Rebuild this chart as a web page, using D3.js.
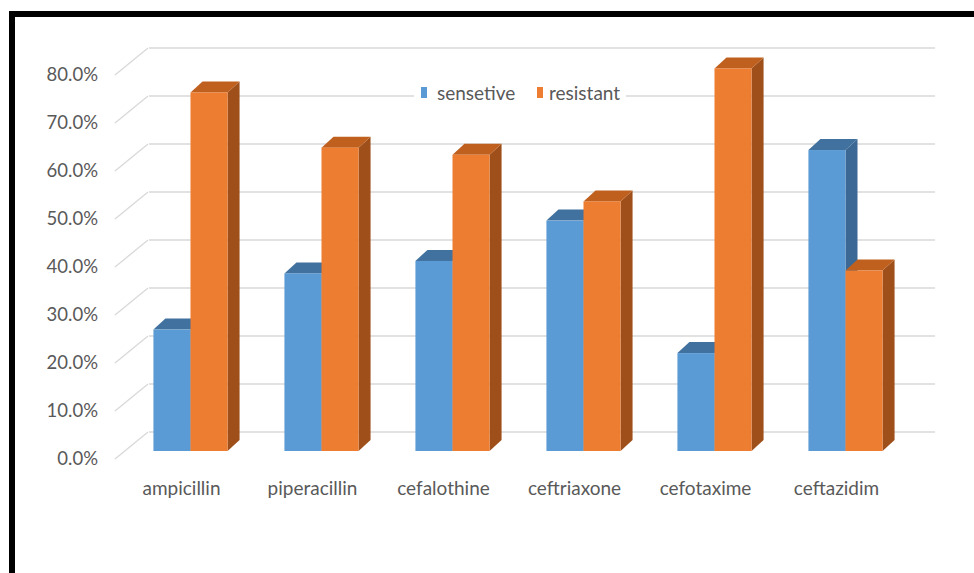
<!DOCTYPE html>
<html>
<head>
<meta charset="utf-8">
<script src="https://cdn.jsdelivr.net/npm/d3@7"></script>
<style>
  html, body { margin: 0; padding: 0; background: #fff; }
  svg { display: block; }
  text { font-family: Lato, "Noto Sans", sans-serif; fill: #595959; }
</style>
</head>
<body>
<svg id="chart" width="974" height="573"></svg>
<script>
// ---- data ----
const categories = ["ampicillin", "piperacillin", "cefalothine", "ceftriaxone", "cefotaxime", "ceftazidim"];
const seriesNames = ["sensetive", "resistant"];
const sensitive = [25.3, 37.0, 39.6, 48.0, 20.4, 62.7];
const resistant = [74.7, 63.2, 61.7, 52.0, 79.7, 37.6];
const yTicks = [0, 10, 20, 30, 40, 50, 60, 70, 80];

const seriesValues = [sensitive, resistant];
const frontColors = ["#5b9bd5", "#ed7d31"];
const topColors = ["#41719e", "#c0601f"];
const sideColors = ["#3b6894", "#9e4f1a"];

const svg = d3.select("#chart");

// frame (black border top & left)
svg.append("rect").attr("x", 9).attr("y", 11).attr("width", 965).attr("height", 6).attr("fill", "#000");
svg.append("rect").attr("x", 9).attr("y", 11).attr("width", 6).attr("height", 562).attr("fill", "#000");

// ---- geometry of the oblique 3D projection ----
const wallOff = { x: 33, y: -27 };   // floor front edge -> back wall
const barFrontOff = { x: 9, y: -8 }; // floor front edge -> bar front face
const barDepth = { x: 12, y: -11 };  // bar front face -> bar back face

// value scale on the front plane
const yF = d3.scaleLinear().domain([0, 80]).range([459, 75]);
// category scale on the bar-front plane
const x = d3.scaleBand().domain(categories).range([125, 911]).paddingInner(0.434).paddingOuter(0.217);
const xs = d3.scaleBand().domain(seriesNames).range([0, x.bandwidth()]);

const frontX0 = 115;
const wallX0 = x.range()[0] + (wallOff.x - barFrontOff.x);
const wallX1 = x.range()[1] + (wallOff.x - barFrontOff.x);

// gridlines on back wall + diagonals on left side wall
const grid = svg.append("g");
yTicks.forEach(t => {
  const yw = yF(t) + wallOff.y;
  grid.append("line").attr("x1", frontX0).attr("y1", yF(t)).attr("x2", frontX0 + wallOff.x).attr("y2", yw)
    .attr("stroke", "#d9d9d9").attr("stroke-width", 1.3);
  grid.append("line").attr("x1", wallX0).attr("y1", yw).attr("x2", wallX1).attr("y2", yw)
    .attr("stroke", "#d9d9d9").attr("stroke-width", 1.6);
});

// y tick labels
const fmt = d3.format(".1f");
svg.append("g").selectAll("text").data(yTicks).join("text")
  .attr("x", 98).attr("y", d => yF(d)).attr("dy", "0.35em")
  .attr("text-anchor", "end").attr("font-size", 18.5)
  .text(d => fmt(d) + "%");

// bars
const yB = v => yF(v) + barFrontOff.y;
const y0 = yB(0);
const bars = svg.append("g");
categories.forEach((c, i) => {
  seriesNames.forEach((s, k) => {
    const v = seriesValues[k][i];
    const x0 = x(c) + xs(s);
    const x1 = x0 + xs.bandwidth();
    const yt = yB(v);
    const g = bars.append("g");
    // right side face
    g.append("polygon").attr("points", [
      [x1, yt], [x1 + barDepth.x, yt + barDepth.y], [x1 + barDepth.x, y0 + barDepth.y], [x1, y0]
    ].map(p => p.join(",")).join(" ")).attr("fill", sideColors[k]);
    // top face
    g.append("polygon").attr("points", [
      [x0, yt], [x1, yt], [x1 + barDepth.x, yt + barDepth.y], [x0 + barDepth.x, yt + barDepth.y]
    ].map(p => p.join(",")).join(" ")).attr("fill", topColors[k]);
    // front face
    g.append("rect").attr("x", x0).attr("y", yt).attr("width", x1 - x0).attr("height", y0 - yt)
      .attr("fill", frontColors[k]);
  });
});

// category labels (front plane)
svg.append("g").selectAll("text").data(categories).join("text")
  .attr("x", d => x(d) + x.bandwidth() / 2 - barFrontOff.x)
  .attr("y", 488).attr("dy", "0.35em")
  .attr("text-anchor", "middle").attr("font-size", 19)
  .text(d => d);

// legend
const lg = svg.append("g");
lg.append("rect").attr("x", 414).attr("y", 84).attr("width", 212).attr("height", 17).attr("fill", "#fff");
const legendX = [421, 537];
const legendTextX = [437, 549];
seriesNames.forEach((s, k) => {
  lg.append("rect").attr("x", legendX[k]).attr("y", 87).attr("width", 6).attr("height", 11).attr("fill", frontColors[k]);
  lg.append("text").attr("x", legendTextX[k]).attr("y", 93).attr("dy", "0.35em")
    .attr("font-size", 19).text(s);
});
</script>
</body>
</html>
